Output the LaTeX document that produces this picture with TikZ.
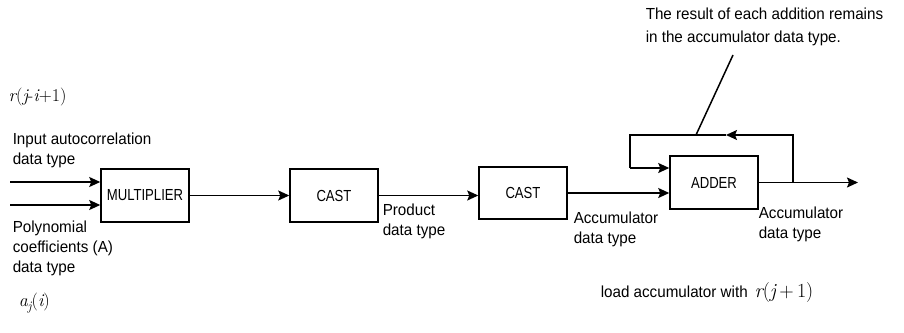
\documentclass[tikz,border=0pt]{standalone}
\usepackage{fontspec}
\setmainfont[FakeStretch=0.95]{Liberation Sans}
\newfontfamily\blkfont[FakeStretch=0.82]{Liberation Sans}
\newfontfamily\lmfont{Latin Modern Roman}
\newcommand{\mvar}[1]{{\lmfont\itshape #1}}
\usepackage{tikz}
\usetikzlibrary{arrows.meta, positioning, calc}

\begin{document}
\begin{tikzpicture}[x=1pt, y=-1pt, line width=1.5pt,
		font=\fontsize{16}{20}\selectfont,
		blk/.style={draw, minimum width=88, minimum height=53, inner sep=0pt,
		            font=\fontsize{16}{20}\blkfont},
		arr/.style={-{Stealth[length=11pt, width=10pt, inset=2pt]}},
		lbl/.style={anchor=west, align=left, inner sep=0pt}]
		\useasboundingbox (0,0) rectangle (904,332);
		% blocks
		\node[blk] (mult) at (145,195.5) {MULTIPLIER};
		\node[blk] (cast1) at (334,195.5) {CAST};
		\node[blk, minimum height=52] (cast2) at (523,193) {CAST};
		\node[blk] (adder) at (714,182.5) {ADDER};
		% free ends and corners
		\coordinate (in1) at (10,182);
		\coordinate (in2) at (10,205);
		\coordinate (out) at (858,182.5);
		\coordinate (br) at (793,182.5);
		\coordinate (tr) at (793,135);
		\coordinate (mid) at (726,135);
		\coordinate (tl) at (630,135);
		\coordinate (bl) at (630,168);
		\coordinate (fbpt) at (696,135);
		\coordinate (nt) at (733,55);
		% connectors
		\draw[arr] (in1) -- (in1 -| mult.west);
		\draw[arr] (in2) -- (in2 -| mult.west);
		\draw[arr] (mult) -- (cast1);
		\draw[arr] (cast1.east) -- (cast1.east -| cast2.west);
		\draw[arr] (cast2.east) -- (cast2.east -| adder.west);
		\draw[arr] (adder.east) -- (out);
		\draw[arr] (br) -- (tr) -- (mid);
		\draw (mid) -- (tl) -- (bl);
		\draw[arr] (bl) -- (bl -| adder.west);
		\draw (nt) -- (fbpt);
		% labels
		\node[lbl, font=\fontsize{18}{20}\lmfont] (rin) at (8,97)
		  {\mvar{r}(\mvar{j}-\mvar{i}+1)};
		\node[lbl] (lin) at (12,150) {Input autocorrelation\\data type};
		\node[lbl] (lpoly) at (12,248) {Polynomial\\coefficients (A)\\data type};
		\node[lbl, font=\fontsize{18}{20}\lmfont] (ain) at (18,303)
		  {\mvar{a}\raisebox{-4pt}{\fontsize{13}{14}\selectfont\mvar{j}}(\mvar{i})};
		\node[lbl] (lprod) at (382,221) {Product\\data type};
		\node[lbl] (lacc1) at (573,229) {Accumulator\\data type};
		\node[lbl] (lacc2) at (758,224) {Accumulator\\data type};
		\node[lbl] (lload) at (600,293) {load accumulator with\,
		  {\fontsize{20}{20}\lmfont\mvar{r}(\mvar{j}\,+\,1)}};
		\node[lbl, font=\fontsize{16}{23}\selectfont] (note) at (645,27)
		  {The result of each addition remains\\in the accumulator data type.};
	\end{tikzpicture}
\end{document}
